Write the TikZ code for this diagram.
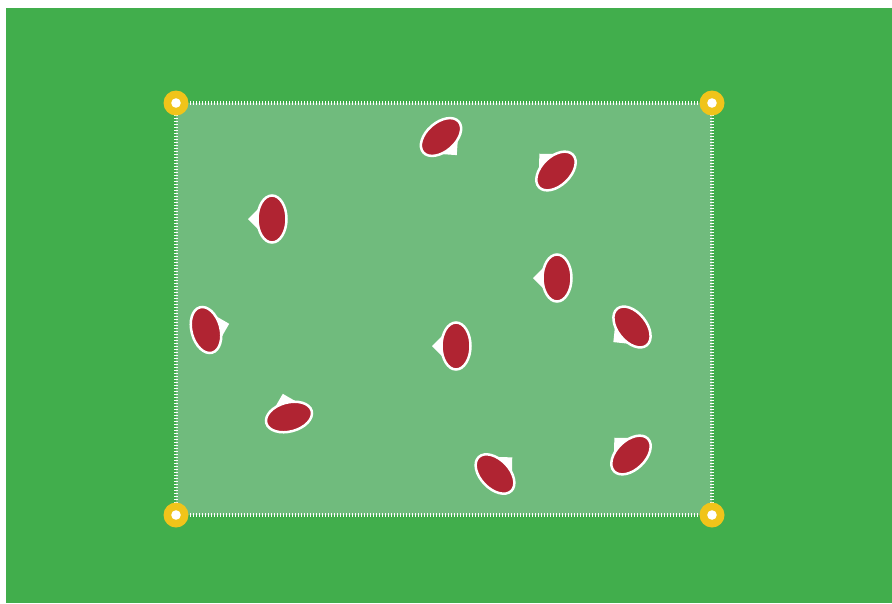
\documentclass[tikz,border=0pt]{standalone}
\usepackage{tikz}
\definecolor{pitchgreen}{RGB}{65,174,76}
\definecolor{gridarea}{RGB}{112,187,125}
\definecolor{conecolor}{RGB}{240,196,26}
\definecolor{playerred}{RGB}{176,36,50}
\newcommand{\fieldplayer}[3]{%
  \begin{scope}[shift={(#1,#2)},rotate=#3]
    \fill[white] (-24,0) -- (-8,16) -- (-8,-16) -- cycle;
    \draw[white,line width=2.5pt,fill=playerred] (0,0) ellipse (14.5 and 23.5);
  \end{scope}%
}
\newcommand{\fieldcone}[2]{%
  \fill[conecolor] (#1,#2) circle (12.5);
  \fill[white] (#1,#2) circle (4.8);%
}

\begin{document}
\begin{tikzpicture}[x=1pt,y=-1pt]
  \useasboundingbox (0,0) rectangle (892,603);
  \fill[pitchgreen] (6,8) rectangle (892,603);
  % playing area
  \fill[gridarea] (176,103) rectangle (712,515);
  \draw[white,line width=4pt,dash pattern=on 1.3pt off 1.7pt] (176,103) rectangle (712,515);
  % players
  \fieldplayer{272}{219}{0}
  \fieldplayer{441}{137}{131}
  \fieldplayer{556}{171}{-46}
  \fieldplayer{557}{278}{0}
  \fieldplayer{206}{330}{-165}
  \fieldplayer{456}{346}{0}
  \fieldplayer{632}{327}{39}
  \fieldplayer{289}{417}{-75}
  \fieldplayer{495}{474}{-136}
  \fieldplayer{631}{455}{-46}
  % cones
  \fieldcone{176}{103}
  \fieldcone{712}{103}
  \fieldcone{176}{515}
  \fieldcone{712}{515}
\end{tikzpicture}
\end{document}
